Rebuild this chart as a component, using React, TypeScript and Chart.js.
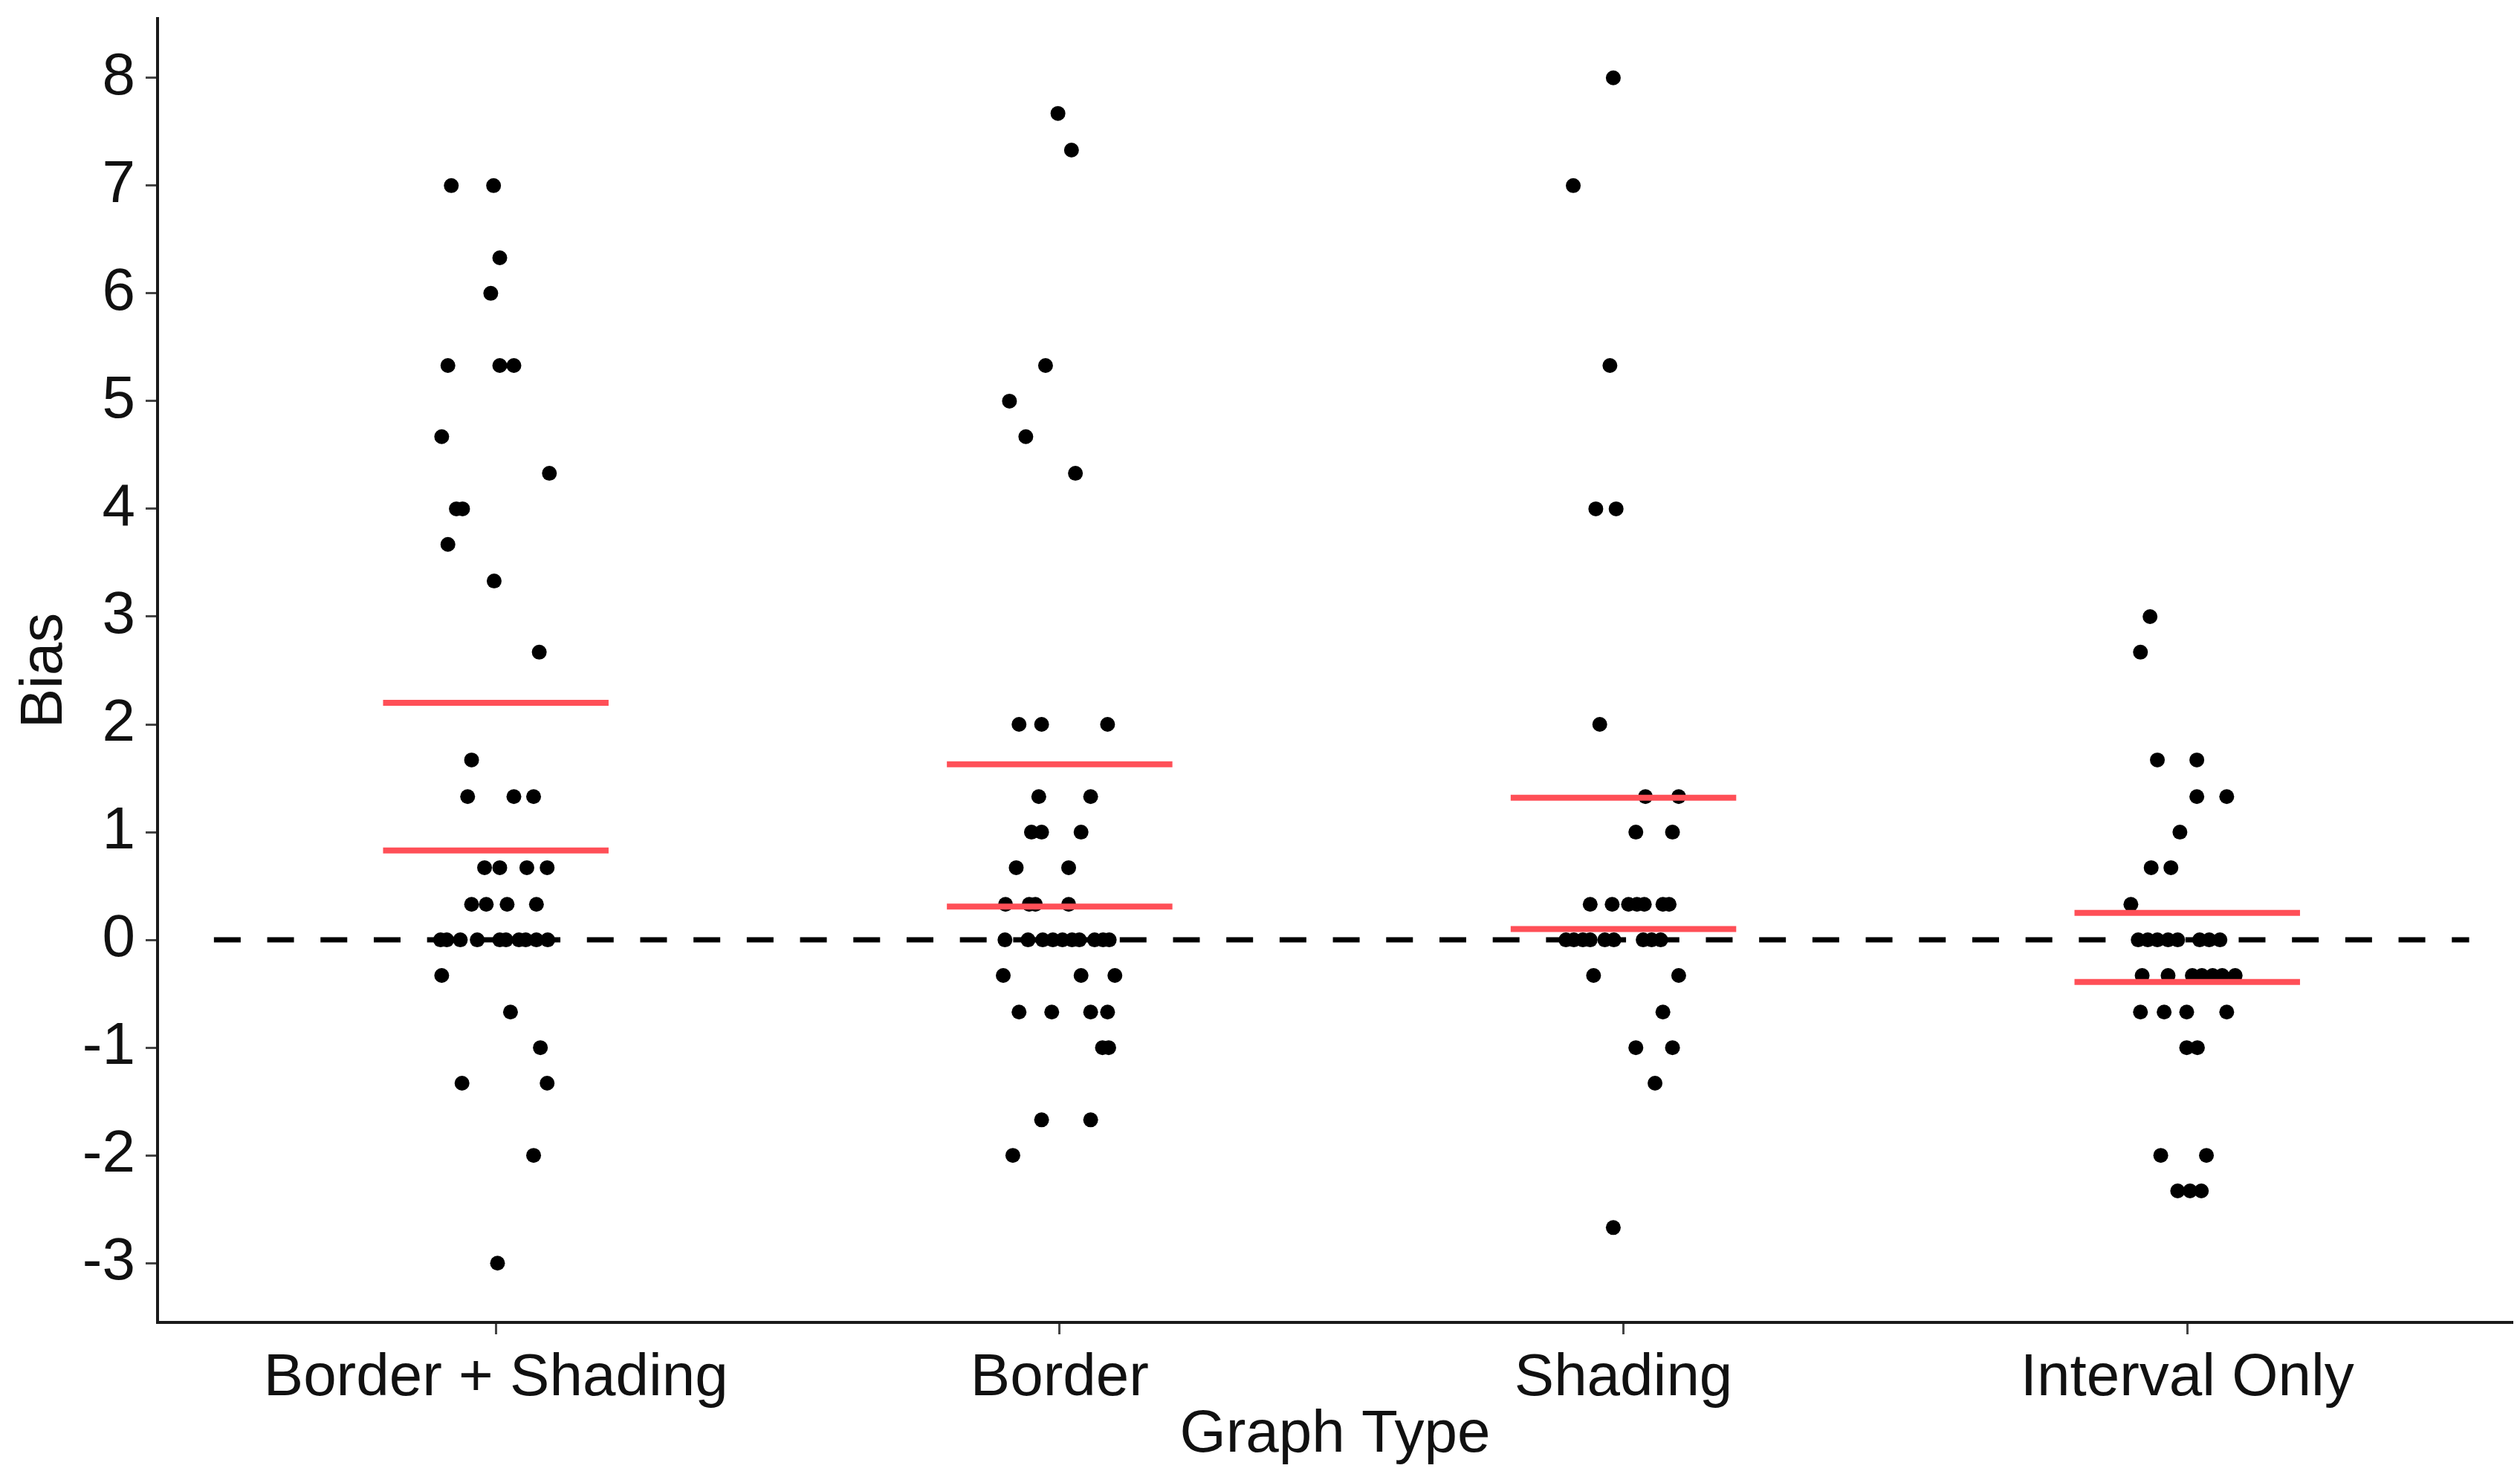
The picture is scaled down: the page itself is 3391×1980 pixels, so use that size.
import React, { useEffect, useRef } from "react";
import { Chart, registerables } from "chart.js";

Chart.register(...registerables);

// ---- data ----
const categories = ["Border + Shading", "Border", "Shading", "Interval Only"];
const yTickValues = [-3, -2, -1, 0, 1, 2, 3, 4, 5, 6, 7, 8];

// Border + Shading
const borderShadingBias = [
  7, 7, 6.33, 6, 5.33, 5.33, 5.33, 4.67, 4.33, 4, 4, 3.67, 3.33, 2.67, 1.67,
  1.33, 1.33, 1.33, 0.67, 0.67, 0.67, 0.67, 0.33, 0.33, 0.33, 0.33,
  0, 0, 0, 0, 0, 0, 0, 0, 0, 0, -0.33, -0.67, -1, -1.33, -1.33, -2, -3,
];
const borderShadingJitter = [
  -0.079, -0.004, 0.007, -0.009, -0.085, 0.007, 0.032, -0.096, 0.095, -0.07, -0.059, -0.085, -0.003, 0.077, -0.043,
  -0.05, 0.032, 0.067, -0.02, 0.007, 0.055, 0.091, -0.043, -0.017, 0.02, 0.072,
  -0.098, -0.087, -0.063, -0.033, 0.007, 0.018, 0.041, 0.053, 0.072, 0.092, -0.096, 0.026, 0.079, -0.06, 0.091, 0.067, 0.003,
];

// Border
const borderBias = [
  7.67, 7.33, 5.33, 5, 4.67, 4.33, 2, 2, 2, 1.33, 1.33, 1, 1, 1, 0.67, 0.67,
  0.33, 0.33, 0.33, 0.33, 0, 0, 0, 0, 0, 0, 0, 0, 0, 0,
  -0.33, -0.33, -0.33, -0.67, -0.67, -0.67, -0.67, -1, -1, -1.67, -1.67, -2,
];
const borderJitter = [
  -0.003, 0.021, -0.025, -0.089, -0.06, 0.028, -0.072, -0.032, 0.085, -0.037, 0.055, -0.05, -0.032, 0.038, -0.077, 0.016,
  -0.096, -0.054, -0.043, 0.016, -0.097, -0.056, -0.03, -0.012, 0.005, 0.022, 0.035, 0.062, 0.077, 0.088,
  -0.1, 0.038, 0.098, -0.072, -0.014, 0.055, 0.085, 0.076, 0.087, -0.032, 0.055, -0.083,
];

// Shading
const shadingBias = [
  8, 7, 5.33, 4, 4, 2, 1.33, 1.33, 1, 1, 0.33, 0.33, 0.33, 0.33, 0.33, 0.33, 0.33,
  0, 0, 0, 0, 0, 0, 0, 0, 0, -0.33, -0.33, -0.67, -1, -1, -1.33, -2.67,
];
const shadingJitter = [
  -0.018, -0.089, -0.024, -0.049, -0.013, -0.042, 0.039, 0.098, 0.022, 0.087, -0.059, -0.02, 0.009, 0.024, 0.037, 0.07, 0.081,
  -0.102, -0.088, -0.072, -0.059, -0.033, -0.017, 0.035, 0.05, 0.066, -0.053, 0.098, 0.07, 0.022, 0.087, 0.056, -0.018,
];

// Interval Only
const intervalOnlyBias = [
  3, 2.67, 1.67, 1.67, 1.33, 1.33, 1, 0.67, 0.67, 0.33,
  0, 0, 0, 0, 0, 0, 0, 0,
  -0.33, -0.33, -0.33, -0.33, -0.33, -0.33, -0.33,
  -0.67, -0.67, -0.67, -0.67, -1, -1, -2, -2, -2.33, -2.33, -2.33,
];
const intervalOnlyJitter = [
  -0.066, -0.083, -0.053, 0.017, 0.017, 0.07, -0.013, -0.064, -0.029, -0.1,
  -0.087, -0.07, -0.053, -0.034, -0.017, 0.022, 0.039, 0.058,
  -0.08, -0.034, 0.009, 0.026, 0.045, 0.062, 0.085,
  -0.083, -0.041, -0.001, 0.07, -0.001, 0.018, -0.047, 0.034, -0.017, 0.005, 0.025,
];

// red interval lines (upper / lower) per graph type
const intervalUpper = [2.2, 1.63, 1.32, 0.25];
const intervalLower = [0.83, 0.31, 0.1, -0.39];
const referenceBias = 0;

const FONT = "'Liberation Sans', Arial, Helvetica, sans-serif";

export default function App() {
  const canvasRef = useRef<HTMLCanvasElement | null>(null);

  useEffect(() => {
    document.documentElement.style.overflow = "hidden";
    document.body.style.margin = "0";
    document.body.style.overflow = "hidden";
    const canvas = canvasRef.current;
    if (!canvas) return;

    const groups: [number[], number[]][] = [
      [borderShadingBias, borderShadingJitter],
      [borderBias, borderJitter],
      [shadingBias, shadingJitter],
      [intervalOnlyBias, intervalOnlyJitter],
    ];

    const pointSets: any[] = groups.map(([bias, jitter], gi) => ({
      type: "scatter",
      label: categories[gi],
      data: bias.map((v, i) => ({ x: gi + 1 + jitter[i], y: v })),
      backgroundColor: "#000000",
      borderColor: "#000000",
      borderWidth: 0,
      pointRadius: 10,
      showLine: false,
      order: 1,
    }));

    const segSets: any[] = [];
    categories.forEach((_, gi) => {
      [intervalUpper[gi], intervalLower[gi]].forEach((v) => {
        segSets.push({
          type: "line",
          data: [
            { x: gi + 1 - 0.2, y: v },
            { x: gi + 1 + 0.2, y: v },
          ],
          borderColor: "#FF4F57",
          borderWidth: 8,
          pointRadius: 0,
          fill: false,
          order: 0,
        });
      });
    });

    const dashed: any = {
      type: "line",
      data: [
        { x: 0.5, y: referenceBias },
        { x: categories.length + 0.5, y: referenceBias },
      ],
      borderColor: "#000000",
      borderWidth: 7,
      borderDash: [36, 35.7],
      pointRadius: 0,
      fill: false,
      order: 2,
    };

    const tickFont = { family: FONT, size: 80 };

    const chart = new Chart(canvas, {
      type: "scatter",
      data: { datasets: [dashed, ...pointSets, ...segSets] },
      options: {
        animation: false,
        responsive: false,
        devicePixelRatio: 1,
        layout: { padding: { top: 25, right: 0, left: 0, bottom: 0 } },
        plugins: {
          legend: { display: false },
          tooltip: { enabled: false },
        },
        scales: {
          x: {
            type: "linear",
            min: 0.4,
            max: 4.577,
            afterBuildTicks: (s: any) => {
              s.ticks = categories.map((_, i) => ({ value: i + 1 }));
            },
            afterFit: (s: any) => {
              s.height = 200;
              s.paddingLeft = 0;
              s.paddingRight = 0;
            },
            ticks: {
              autoSkip: false,
              maxRotation: 0,
              padding: 12,
              color: "#111111",
              font: tickFont,
              callback: (v: any) => categories[Math.round(Number(v)) - 1] ?? "",
            },
            grid: {
              drawOnChartArea: false,
              drawTicks: true,
              tickLength: 16,
              tickWidth: 3,
              tickColor: "#444444",
            },
            border: { display: true, color: "#1a1a1a", width: 4 },
            title: {
              display: true,
              text: "Graph Type",
              color: "#111111",
              font: tickFont,
              padding: { top: 0, bottom: 0 },
            },
          },
          y: {
            type: "linear",
            min: -3.55,
            max: 8.55,
            afterBuildTicks: (s: any) => {
              s.ticks = yTickValues.map((v) => ({ value: v }));
            },
            afterFit: (s: any) => {
              s.width = 212;
              s.paddingTop = 0;
              s.paddingBottom = 0;
            },
            ticks: {
              padding: 14,
              color: "#111111",
              font: tickFont,
              callback: (v: any) => String(v),
            },
            grid: {
              drawOnChartArea: false,
              drawTicks: true,
              tickLength: 16,
              tickWidth: 3,
              tickColor: "#444444",
            },
            border: { display: true, color: "#1a1a1a", width: 4 },
            title: {
              display: true,
              text: "Bias",
              color: "#111111",
              font: tickFont,
              padding: { top: 13, bottom: 0 },
            },
          },
        },
      },
    } as any);

    return () => chart.destroy();
  }, []);

  return (
    <canvas
      ref={canvasRef}
      width={3391}
      height={1980}
      style={{ display: "block", position: "fixed", left: 0, top: 0, width: 3391, height: 1980 }}
    />
  );
}
